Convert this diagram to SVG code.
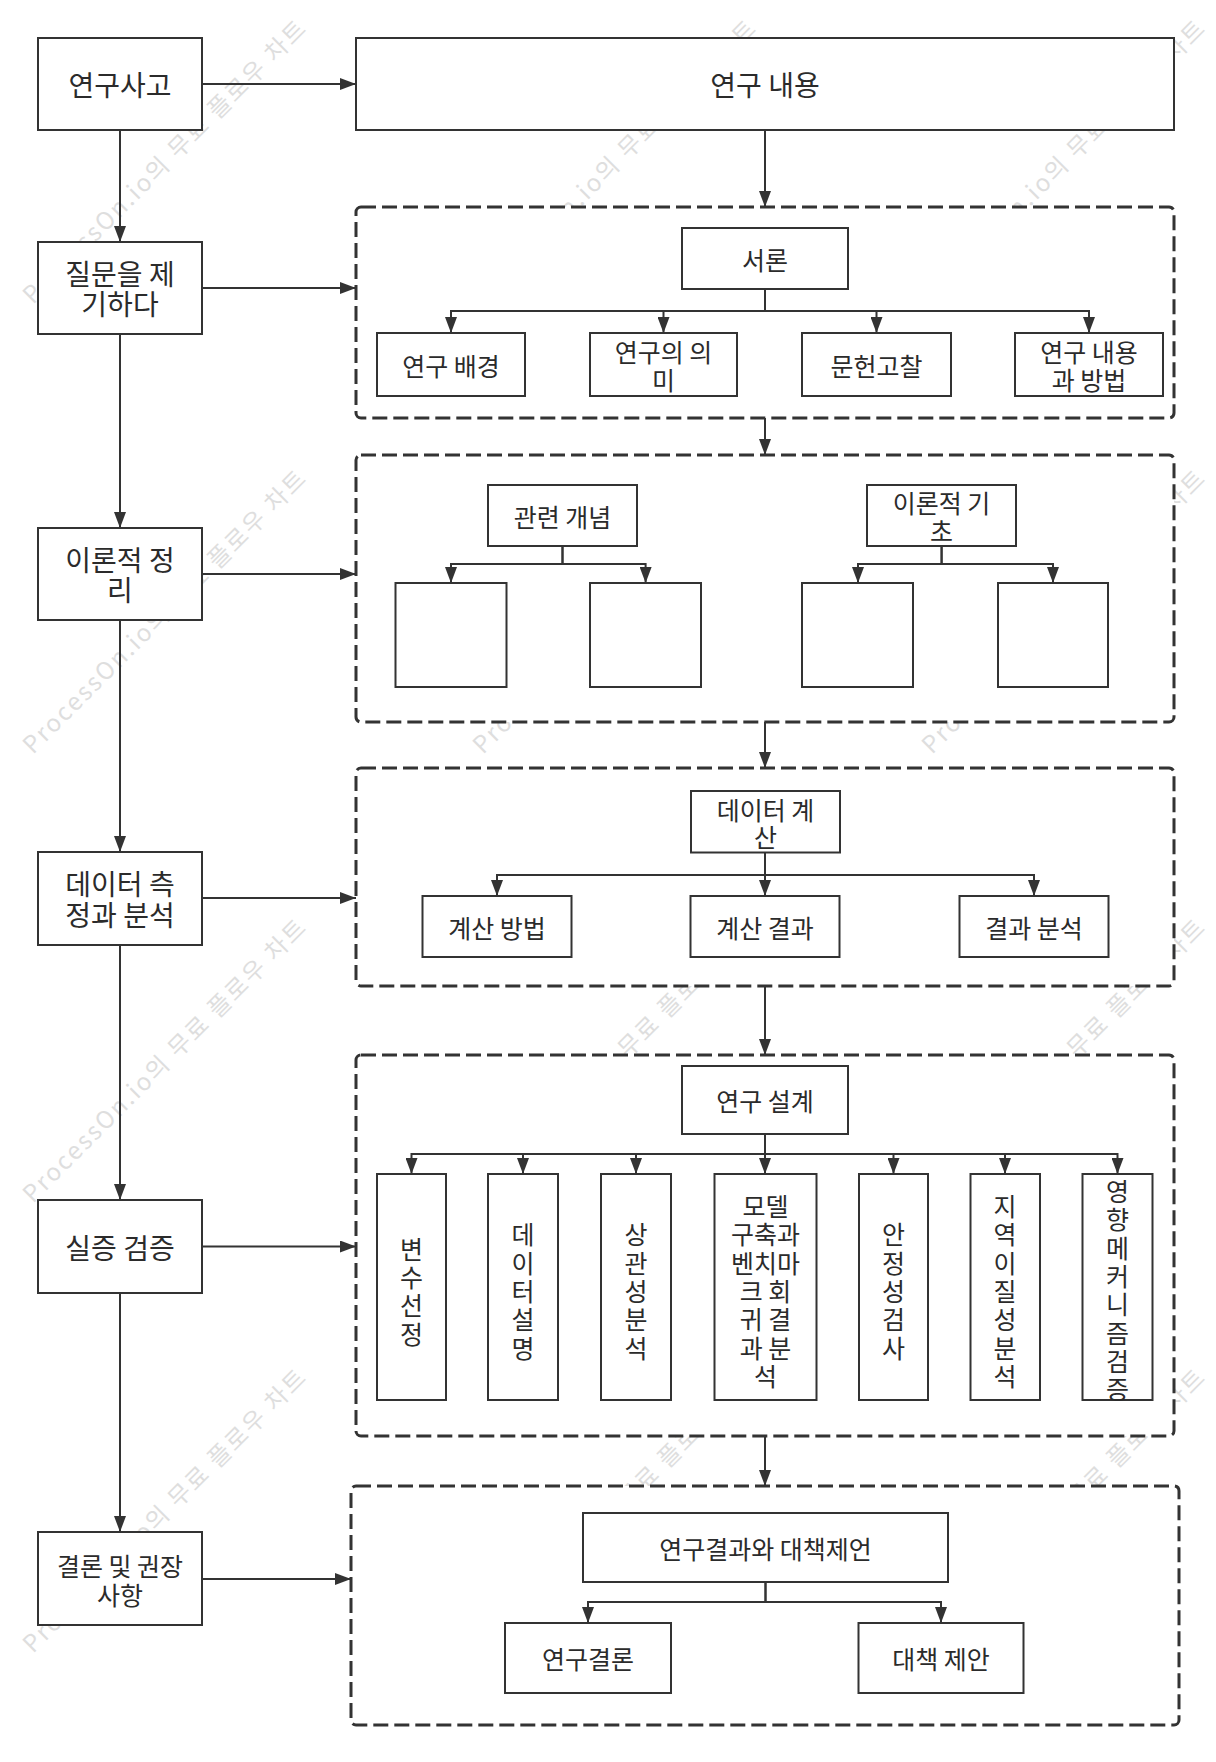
<svg xmlns="http://www.w3.org/2000/svg" width="1216" height="1762" viewBox="0 0 1216 1762">
<style>
.box{fill:#fff;stroke:#333;stroke-width:2}
.grp{fill:#fff;stroke:#333;stroke-width:3;stroke-dasharray:15 6}
.edge{fill:none;stroke:#333;stroke-width:2;marker-end:url(#ah)}
.t{font-family:"Noto Sans CJK KR","Noto Sans",sans-serif;fill:#2b2b2b;text-anchor:middle;dominant-baseline:central}
.big{font-size:28px}
.sm{font-size:25px}
.wm{font-family:"Noto Sans CJK KR","Noto Sans",sans-serif;font-size:24px;fill:#dedede}
</style>
<defs>
<marker id="ah" viewBox="0 0 16 12" refX="16" refY="6" markerWidth="16" markerHeight="12" markerUnits="userSpaceOnUse" orient="auto"><path d="M0,0 L16,6 L0,12 z" fill="#333"/></marker>
</defs>
<rect width="1216" height="1762" fill="#fff"/>
<g id="watermarks">
<text class="wm" transform="translate(33,305) rotate(-45)" textLength="388">ProcessOn.io의 무료 플로우 차트</text>
<text class="wm" transform="translate(33,755) rotate(-45)" textLength="388">ProcessOn.io의 무료 플로우 차트</text>
<text class="wm" transform="translate(33,1204) rotate(-45)" textLength="388">ProcessOn.io의 무료 플로우 차트</text>
<text class="wm" transform="translate(33,1654) rotate(-45)" textLength="388">ProcessOn.io의 무료 플로우 차트</text>
<text class="wm" transform="translate(483,305) rotate(-45)" textLength="388">ProcessOn.io의 무료 플로우 차트</text>
<text class="wm" transform="translate(483,755) rotate(-45)" textLength="388">ProcessOn.io의 무료 플로우 차트</text>
<text class="wm" transform="translate(483,1204) rotate(-45)" textLength="388">ProcessOn.io의 무료 플로우 차트</text>
<text class="wm" transform="translate(483,1654) rotate(-45)" textLength="388">ProcessOn.io의 무료 플로우 차트</text>
<text class="wm" transform="translate(932,305) rotate(-45)" textLength="388">ProcessOn.io의 무료 플로우 차트</text>
<text class="wm" transform="translate(932,755) rotate(-45)" textLength="388">ProcessOn.io의 무료 플로우 차트</text>
<text class="wm" transform="translate(932,1204) rotate(-45)" textLength="388">ProcessOn.io의 무료 플로우 차트</text>
<text class="wm" transform="translate(932,1654) rotate(-45)" textLength="388">ProcessOn.io의 무료 플로우 차트</text>
</g>
<g id="connectors">
<path class="edge" d="M120,130 V242"/>
<path class="edge" d="M120,334 V528"/>
<path class="edge" d="M120,620 V852"/>
<path class="edge" d="M120,945 V1200"/>
<path class="edge" d="M120,1293 V1532"/>
<path class="edge" d="M202,84 H356"/>
<path class="edge" d="M202,288 H356"/>
<path class="edge" d="M202,574 H356"/>
<path class="edge" d="M202,898 H356"/>
<path class="edge" d="M202,1246.5 H356"/>
<path class="edge" d="M202,1579 H351"/>
<path class="edge" d="M765,130 V207"/>
<path class="edge" d="M765,418 V455"/>
<path class="edge" d="M765,722 V768"/>
<path class="edge" d="M765,986 V1055"/>
<path class="edge" d="M765,1436 V1486"/>
</g>
<g id="group-1">
<rect class="grp" x="356" y="207" width="818" height="211" rx="5"/>
</g>
<g id="group-2">
<rect class="grp" x="356" y="455" width="818" height="267" rx="5"/>
</g>
<g id="group-3">
<rect class="grp" x="356" y="768" width="818" height="218" rx="5"/>
</g>
<g id="group-4">
<rect class="grp" x="356" y="1055" width="818" height="381" rx="5"/>
</g>
<g id="group-5">
<rect class="grp" x="351" y="1486" width="828" height="239" rx="5"/>
</g>
<g id="inner-connectors">
<path class="edge" d="M765,289 V311 H451 V333"/>
<path class="edge" d="M765,289 V311 H663.5 V333"/>
<path class="edge" d="M765,289 V311 H876.5 V333"/>
<path class="edge" d="M765,289 V311 H1089 V333"/>
<path class="edge" d="M562.5,546 V564 H451 V583"/>
<path class="edge" d="M562.5,546 V564 H645.6 V583"/>
<path class="edge" d="M941.6,546 V564 H858 V583"/>
<path class="edge" d="M941.6,546 V564 H1053 V583"/>
<path class="edge" d="M765,852.5 V875 H497 V896"/>
<path class="edge" d="M765,852.5 V896"/>
<path class="edge" d="M765,852.5 V875 H1034 V896"/>
<path class="edge" d="M765,1134 V1154 H411.5 V1174"/>
<path class="edge" d="M765,1134 V1154 H523 V1174"/>
<path class="edge" d="M765,1134 V1154 H636 V1174"/>
<path class="edge" d="M765,1134 V1174"/>
<path class="edge" d="M765,1134 V1154 H893.5 V1174"/>
<path class="edge" d="M765,1134 V1154 H1005 V1174"/>
<path class="edge" d="M765,1134 V1154 H1117.5 V1174"/>
<path class="edge" d="M765.5,1582 V1602 H588 V1623"/>
<path class="edge" d="M765.5,1582 V1602 H941 V1623"/>
</g>
<g id="n-yeongu-sago"><rect class="box" x="38" y="38" width="164" height="92"/><text class="t big" x="120" y="84">연구사고</text></g>
<g id="n-jilmun"><rect class="box" x="38" y="242" width="164" height="92"/><text class="t big"><tspan x="120" y="272.8">질문을 제</tspan><tspan x="120" y="303.3">기하다</tspan></text></g>
<g id="n-iron"><rect class="box" x="38" y="528" width="164" height="92"/><text class="t big"><tspan x="120" y="558.8">이론적 정</tspan><tspan x="120" y="589.3">리</tspan></text></g>
<g id="n-data"><rect class="box" x="38" y="852" width="164" height="93"/><text class="t big"><tspan x="120" y="883.3">데이터 측</tspan><tspan x="120" y="913.8">정과 분석</tspan></text></g>
<g id="n-silijung"><rect class="box" x="38" y="1200" width="164" height="93"/><text class="t big" x="120" y="1246.5">실증 검증</text></g>
<g id="n-gyeollon"><rect class="box" x="38" y="1532" width="164" height="93"/><text class="t sm"><tspan x="120" y="1565">결론 및 권장</tspan><tspan x="120" y="1594">사항</tspan></text></g>
<g id="n-yeongu-naeyong"><rect class="box" x="356" y="38" width="818" height="92"/><text class="t big" x="765" y="84">연구 내용</text></g>
<g id="n-seoron"><rect class="box" x="682" y="228" width="166" height="61"/><text class="t sm" x="765" y="258.5">서론</text></g>
<g id="n-baegyeong"><rect class="box" x="377" y="333" width="148" height="63"/><text class="t sm" x="451" y="364.5">연구 배경</text></g>
<g id="n-uimi"><rect class="box" x="590" y="333" width="147" height="63"/><text class="t sm"><tspan x="663.5" y="351">연구의 의</tspan><tspan x="663.5" y="379">미</tspan></text></g>
<g id="n-munheon"><rect class="box" x="802" y="333" width="149" height="63"/><text class="t sm" x="876.5" y="364.5">문헌고찰</text></g>
<g id="n-bangbeop"><rect class="box" x="1015" y="333" width="148" height="63"/><text class="t sm"><tspan x="1089" y="351">연구 내용</tspan><tspan x="1089" y="379">과 방법</tspan></text></g>
<g id="n-gwallyeon"><rect class="box" x="488" y="485" width="149" height="61"/><text class="t sm" x="562.5" y="515.5">관련 개념</text></g>
<g id="n-gicho"><rect class="box" x="867" y="485" width="149" height="61"/><text class="t sm"><tspan x="941.5" y="502">이론적 기</tspan><tspan x="941.5" y="530">초</tspan></text></g>
<g id="n-empty-1"><rect class="box" x="395.5" y="583" width="111" height="104"/></g>
<g id="n-empty-2"><rect class="box" x="590" y="583" width="111" height="104"/></g>
<g id="n-empty-3"><rect class="box" x="802" y="583" width="111" height="104"/></g>
<g id="n-empty-4"><rect class="box" x="998" y="583" width="110" height="104"/></g>
<g id="n-gyesan"><rect class="box" x="691" y="791" width="149" height="61.5"/><text class="t sm"><tspan x="765.5" y="808.5">데이터 계</tspan><tspan x="765.5" y="836">산</tspan></text></g>
<g id="n-gyesan-bangbeop"><rect class="box" x="422.5" y="896" width="149" height="61"/><text class="t sm" x="497" y="926.5">계산 방법</text></g>
<g id="n-gyesan-gyeolgwa"><rect class="box" x="690.5" y="896" width="149" height="61"/><text class="t sm" x="765" y="926.5">계산 결과</text></g>
<g id="n-gyeolgwa-bunseok"><rect class="box" x="959.5" y="896" width="149" height="61"/><text class="t sm" x="1034" y="926.5">결과 분석</text></g>
<g id="n-seolgye"><rect class="box" x="682" y="1066" width="166" height="68"/><text class="t sm" x="765" y="1100">연구 설계</text></g>
<g id="n-byeonsu"><rect class="box" x="377" y="1174" width="69" height="226"/><text class="t sm"><tspan x="411.5" y="1247.6">변</tspan><tspan x="411.5" y="1275.9">수</tspan><tspan x="411.5" y="1304.2">선</tspan><tspan x="411.5" y="1332.5">정</tspan></text></g>
<g id="n-data-seolmyeong"><rect class="box" x="488" y="1174" width="70" height="226"/><text class="t sm"><tspan x="523" y="1233.4">데</tspan><tspan x="523" y="1261.7">이</tspan><tspan x="523" y="1290">터</tspan><tspan x="523" y="1318.3">설</tspan><tspan x="523" y="1346.6">명</tspan></text></g>
<g id="n-sanggwan"><rect class="box" x="601" y="1174" width="70" height="226"/><text class="t sm"><tspan x="636" y="1233.4">상</tspan><tspan x="636" y="1261.7">관</tspan><tspan x="636" y="1290">성</tspan><tspan x="636" y="1318.3">분</tspan><tspan x="636" y="1346.6">석</tspan></text></g>
<g id="n-model"><rect class="box" x="714.5" y="1174" width="102" height="226"/><text class="t sm"><tspan x="765.5" y="1205.1">모델</tspan><tspan x="765.5" y="1233.4">구축과</tspan><tspan x="765.5" y="1261.7">벤치마</tspan><tspan x="765.5" y="1290">크 회</tspan><tspan x="765.5" y="1318.3">귀 결</tspan><tspan x="765.5" y="1346.6">과 분</tspan><tspan x="765.5" y="1374.9">석</tspan></text></g>
<g id="n-anjeong"><rect class="box" x="859" y="1174" width="69" height="226"/><text class="t sm"><tspan x="893.5" y="1233.4">안</tspan><tspan x="893.5" y="1261.7">정</tspan><tspan x="893.5" y="1290">성</tspan><tspan x="893.5" y="1318.3">검</tspan><tspan x="893.5" y="1346.6">사</tspan></text></g>
<g id="n-jiyeok"><rect class="box" x="970.5" y="1174" width="69.5" height="226"/><text class="t sm"><tspan x="1005" y="1205.1">지</tspan><tspan x="1005" y="1233.4">역</tspan><tspan x="1005" y="1261.7">이</tspan><tspan x="1005" y="1290">질</tspan><tspan x="1005" y="1318.3">성</tspan><tspan x="1005" y="1346.6">분</tspan><tspan x="1005" y="1374.9">석</tspan></text></g>
<g id="n-yeonghyang"><rect class="box" x="1082.5" y="1174" width="70" height="226"/><text class="t sm"><tspan x="1117.5" y="1190">영</tspan><tspan x="1117.5" y="1218.3">향</tspan><tspan x="1117.5" y="1246.6">메</tspan><tspan x="1117.5" y="1274.9">커</tspan><tspan x="1117.5" y="1303.2">니</tspan><tspan x="1117.5" y="1331.5">즘</tspan><tspan x="1117.5" y="1359.8">검</tspan><tspan x="1117.5" y="1388">증</tspan></text></g>
<g id="n-gyeolgwa-jeeon"><rect class="box" x="583" y="1513" width="365" height="69"/><text class="t sm" x="765.5" y="1548">연구결과와 대책제언</text></g>
<g id="n-yeongu-gyeollon"><rect class="box" x="505" y="1623" width="166" height="70"/><text class="t sm" x="588" y="1658">연구결론</text></g>
<g id="n-daechaek"><rect class="box" x="858.5" y="1623" width="165" height="70"/><text class="t sm" x="941" y="1658">대책 제안</text></g>
</svg>
